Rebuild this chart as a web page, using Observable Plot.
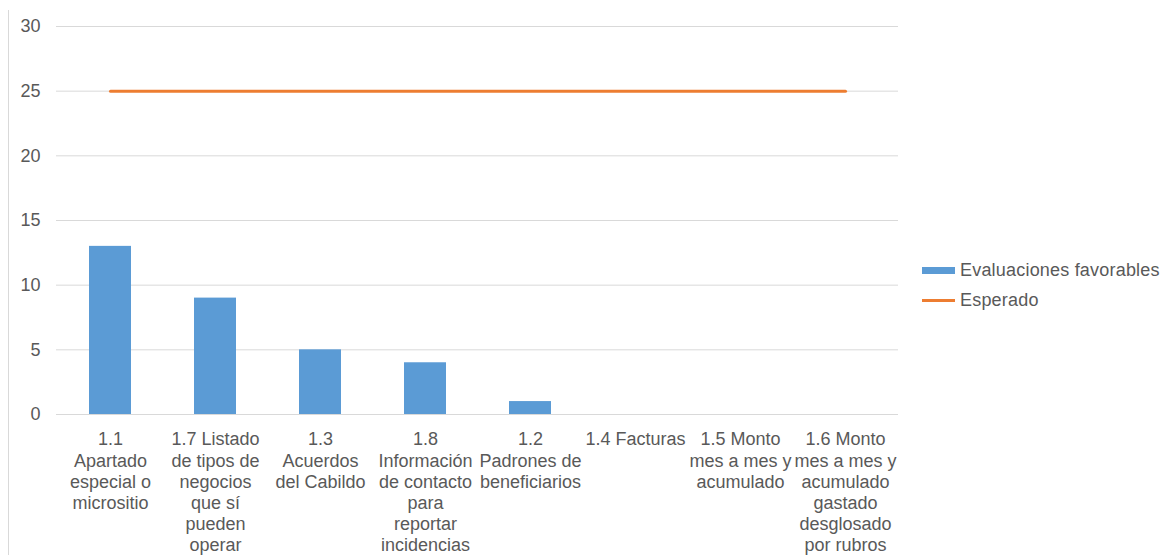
<!DOCTYPE html>
<html>
<head>
<meta charset="utf-8">
<script src="https://cdn.jsdelivr.net/npm/d3@7"></script>
<script src="https://cdn.jsdelivr.net/npm/@observablehq/plot@0.6"></script>
<style>
  html, body { margin: 0; padding: 0; background: #fff; }
  #wrap { position: relative; width: 1162px; height: 555px; overflow: hidden; font-family: "Liberation Sans", Arial, sans-serif; }
  #border { position: absolute; left: 8px; top: 10px; width: 0; height: 560px; border-left: 1px solid #d9d9d9; }
  #legend { position: absolute; left: 922px; top: 255px; font-size: 18px; color: #595959; letter-spacing: 0.2px; }
  .item { display: flex; align-items: center; height: 30px; }
  .sw { width: 33px; margin-right: 5px; }
</style>
</head>
<body>
<div id="wrap">
  <div id="border"></div>
  <div id="chart"></div>
  <div id="legend"></div>
</div>
<script>
const categories = ["1.1", "1.7", "1.3", "1.8", "1.2", "1.4", "1.5", "1.6"];
const tickLabels = [
  "1.1\nApartado\nespecial o\nmicrositio",
  "1.7 Listado\nde tipos de\nnegocios\nque sí\npueden\noperar",
  "1.3\nAcuerdos\ndel Cabildo",
  "1.8\nInformación\nde contacto\npara\nreportar\nincidencias",
  "1.2\nPadrones de\nbeneficiarios",
  "1.4 Facturas",
  "1.5 Monto\nmes a mes y\nacumulado",
  "1.6 Monto\nmes a mes y\nacumulado\ngastado\ndesglosado\npor rubros"
];
const favorables = [13, 9, 5, 4, 1, 0, 0, 0];
const esperado = [25, 25, 25, 25, 25, 25, 25, 25];
const yTicks = [0, 5, 10, 15, 20, 25, 30];
const seriesNames = ["Evaluaciones favorables", "Esperado"];
const colors = ["#5B9BD5", "#ED7D31"];

const data = categories.map((c, i) => ({cat: c, fav: favorables[i], esp: esperado[i]}));
const labelOf = new Map(categories.map((c, i) => [c, tickLabels[i]]));

const chart = Plot.plot({
  width: 1162,
  height: 555,
  marginLeft: 56,
  marginRight: 264,
  marginTop: 26,
  marginBottom: 141,
  style: {fontFamily: "Liberation Sans, Arial, sans-serif", fontSize: "18px", color: "#595959", background: "transparent"},
  x: {domain: categories, paddingInner: 0.6, paddingOuter: 0.3},
  y: {domain: [0, 30], ticks: yTicks},
  marks: [
    Plot.gridY(yTicks, {stroke: "#d9d9d9", strokeOpacity: 1, strokeWidth: 1}),
    Plot.barY(data, {x: "cat", y: "fav", fill: colors[0]}),
    Plot.lineY(data, {x: "cat", y: "esp", stroke: colors[1], strokeWidth: 3}),
    Plot.axisY(yTicks, {tickSize: 0, tickPadding: 16, fontSize: 18, fill: "#595959", label: null}),
    Plot.axisX(categories, {tickSize: 0, tickPadding: 16, fontSize: 18, fill: "#595959", label: null, lineHeight: 1.17, tickFormat: d => labelOf.get(d)})
  ]
});
document.getElementById("chart").appendChild(chart);

const legend = document.getElementById("legend");
seriesNames.forEach((name, i) => {
  const item = document.createElement("div");
  item.className = "item";
  const sw = document.createElement("div");
  sw.className = "sw";
  sw.style.height = i === 0 ? "7px" : "3px";
  sw.style.background = colors[i];
  const t = document.createElement("span");
  t.textContent = name;
  item.appendChild(sw);
  item.appendChild(t);
  legend.appendChild(item);
});
</script>
</body>
</html>
